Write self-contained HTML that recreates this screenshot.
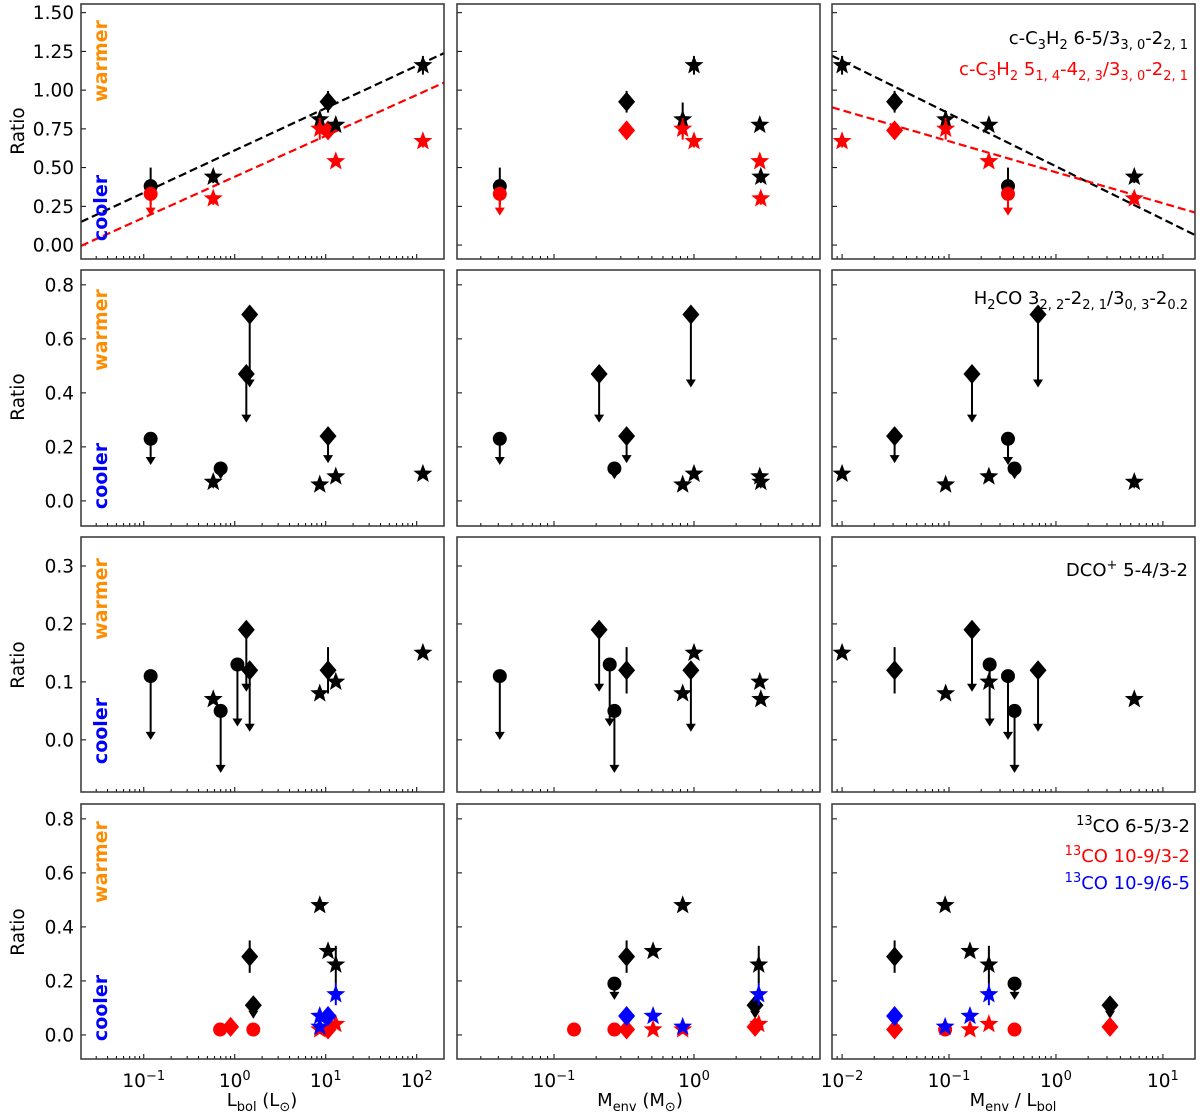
<!DOCTYPE html>
<html><head><meta charset="utf-8"><style>
html,body{margin:0;padding:0;background:#fff;}
svg{display:block;font-family:"DejaVu Sans","Liberation Sans",sans-serif;}
</style></head><body>
<svg id="fig" width="1200" height="1116" viewBox="0 0 1200 1116" xmlns="http://www.w3.org/2000/svg"></svg>
<script>
// ---- data ----
const yTicksRow1 = [0,0.25,0.5,0.75,1.0,1.25,1.5];
const yTickLabelsRow1 = ["0.00","0.25","0.50","0.75","1.00","1.25","1.50"];
const yTicksRow2 = [0,0.2,0.4,0.6,0.8];
const yTickLabelsRow2 = ["0.0","0.2","0.4","0.6","0.8"];
const yTicksRow3 = [0,0.1,0.2,0.3];
const yTickLabelsRow3 = ["0.0","0.1","0.2","0.3"];
const yTicksRow4 = [0,0.2,0.4,0.6,0.8];
const yTickLabelsRow4 = ["0.0","0.2","0.4","0.6","0.8"];
const xDecadesCol1 = [-1,0,1,2];
const xDecadesCol2 = [-1,0];
const xDecadesCol3 = [-2,-1,0,1];
// points: [x, y, marker, color, err, upperLimitTip]
const c3h2VsLbol = [
 [0.119,0.38,'o','k',0.12,null],[0.119,0.33,'o','r',0,0.19],
 [0.58,0.44,'*','k',0.04,null],[0.58,0.30,'*','r',0.04,null],
 [8.6,0.81,'*','k',0.05,null],[8.6,0.75,'*','r',0.07,null],
 [10.6,0.925,'D','k',0.07,null],[10.6,0.74,'D','r',0.05,null],
 [12.9,0.775,'*','k',0,null],[12.9,0.54,'*','r',0,null],
 [117,1.16,'*','k',0.06,null],[117,0.67,'*','r',0.04,null]];
const c3h2VsMenv = [
 [0.041,0.38,'o','k',0.12,null],[0.041,0.33,'o','r',0,0.19],
 [0.33,0.925,'D','k',0.07,null],[0.33,0.74,'D','r',0.05,null],
 [0.83,0.81,'*','k',0.11,null],[0.83,0.75,'*','r',0.07,null],
 [1.0,1.16,'*','k',0.06,null],[1.0,0.67,'*','r',0.04,null],
 [2.95,0.775,'*','k',0,null],[2.95,0.54,'*','r',0,null],
 [3.0,0.44,'*','k',0.04,null],[3.0,0.30,'*','r',0.04,null]];
const c3h2VsRatio = [
 [0.01,1.16,'*','k',0.06,null],[0.01,0.67,'*','r',0.04,null],
 [0.031,0.925,'D','k',0.07,null],[0.031,0.74,'D','r',0.05,null],
 [0.093,0.81,'*','k',0.05,null],[0.093,0.75,'*','r',0.07,null],
 [0.236,0.775,'*','k',0,null],[0.236,0.54,'*','r',0,null],
 [0.356,0.38,'o','k',0.12,null],[0.356,0.33,'o','r',0,0.19],
 [5.4,0.44,'*','k',0.04,null],[5.4,0.30,'*','r',0.04,null]];
const h2coVsLbol = [
 [0.119,0.23,'o','k',0,0.133],[0.58,0.07,'*','k',0,0.045],[0.70,0.12,'o','k',0,0.08],
 [1.46,0.69,'D','k',0,0.42],[1.34,0.47,'D','k',0,0.29],[10.6,0.24,'D','k',0,0.14],
 [8.6,0.06,'*','k',0,null],[12.9,0.09,'*','k',0,null],[117,0.10,'*','k',0,null]];
const h2coVsMenv = [
 [0.041,0.23,'o','k',0,0.133],[0.21,0.47,'D','k',0,0.29],[0.33,0.24,'D','k',0,0.14],
 [0.27,0.12,'o','k',0,0.08],[0.83,0.06,'*','k',0,null],[0.95,0.69,'D','k',0,0.42],
 [1.0,0.10,'*','k',0,null],[2.95,0.09,'*','k',0,null],[3.0,0.07,'*','k',0,0.045]];
const h2coVsRatio = [
 [0.01,0.10,'*','k',0,null],[0.031,0.24,'D','k',0,0.14],[0.093,0.06,'*','k',0,null],
 [0.164,0.47,'D','k',0,0.29],[0.236,0.09,'*','k',0,null],[0.356,0.23,'o','k',0,0.133],
 [0.41,0.12,'o','k',0,0.08],[0.68,0.69,'D','k',0,0.42],[5.4,0.07,'*','k',0,0.045]];
const dcoVsLbol = [
 [0.119,0.11,'o','k',0,0.0],[0.58,0.07,'*','k',0,null],[0.70,0.05,'o','k',0,-0.057],
 [1.07,0.13,'o','k',0,0.023],[1.34,0.19,'D','k',0,0.083],[1.46,0.12,'D','k',0,0.014],
 [8.6,0.08,'*','k',0,null],[10.6,0.12,'D','k',0.04,null],[12.9,0.10,'*','k',0,null],[117,0.15,'*','k',0,null]];
const dcoVsMenv = [
 [0.041,0.11,'o','k',0,0.0],[0.21,0.19,'D','k',0,0.083],[0.25,0.13,'o','k',0,0.023],
 [0.27,0.05,'o','k',0,-0.057],[0.33,0.12,'D','k',0.04,null],[0.83,0.08,'*','k',0,null],
 [0.95,0.12,'D','k',0,0.014],[1.0,0.15,'*','k',0,null],[2.95,0.10,'*','k',0,null],[3.0,0.07,'*','k',0,null]];
const dcoVsRatio = [
 [0.01,0.15,'*','k',0,null],[0.031,0.12,'D','k',0.04,null],[0.093,0.08,'*','k',0,null],
 [0.164,0.19,'D','k',0,0.083],[0.236,0.10,'*','k',0,null],[0.24,0.13,'o','k',0,0.023],
 [0.356,0.11,'o','k',0,0.0],[0.41,0.05,'o','k',0,-0.057],[0.68,0.12,'D','k',0,0.014],[5.4,0.07,'*','k',0,null]];
const coVsLbol = [
 [1.46,0.29,'D','k',0.06,null],[1.6,0.11,'D','k',0,0.06],[8.6,0.48,'*','k',0,null],
 [10.6,0.31,'*','k',0,null],[12.9,0.26,'*','k',0.07,null],
 [0.69,0.02,'o','r',0,null],[0.90,0.03,'D','r',0,null],[1.6,0.02,'o','r',0,null],
 [8.6,0.02,'*','r',0,null],[10.6,0.02,'D','r',0,null],[12.9,0.04,'*','r',0,null],
 [12.9,0.15,'*','b',0.04,null],[8.6,0.07,'*','b',0,null],[8.6,0.03,'*','b',0,null],[10.6,0.07,'D','b',0,null]];
const coVsMenv = [
 [0.27,0.19,'o','k',0,0.13],[0.33,0.29,'D','k',0.06,null],[0.51,0.31,'*','k',0,null],
 [0.83,0.48,'*','k',0,null],[2.73,0.11,'D','k',0,0.06],[2.9,0.26,'*','k',0.07,null],
 [0.139,0.02,'o','r',0,null],[0.27,0.02,'o','r',0,null],[0.33,0.02,'D','r',0,null],
 [0.51,0.02,'*','r',0,null],[0.83,0.02,'*','r',0,null],[2.73,0.03,'D','r',0,null],[2.9,0.04,'*','r',0,null],
 [0.33,0.07,'D','b',0,null],[0.51,0.07,'*','b',0,null],[0.83,0.03,'*','b',0,null],[2.9,0.15,'*','b',0.04,null]];
const coVsRatio = [
 [0.031,0.29,'D','k',0.06,null],[0.092,0.48,'*','k',0,null],[0.157,0.31,'*','k',0,null],
 [0.236,0.26,'*','k',0.07,null],[0.41,0.19,'o','k',0,0.13],[3.2,0.11,'D','k',0,0.06],
 [0.031,0.02,'D','r',0,null],[0.092,0.02,'o','r',0,null],[0.157,0.02,'*','r',0,null],
 [0.236,0.04,'*','r',0,null],[0.41,0.02,'o','r',0,null],[3.2,0.03,'D','r',0,null],
 [0.031,0.07,'D','b',0,null],[0.092,0.03,'*','b',0,null],[0.157,0.07,'*','b',0,null],[0.236,0.15,'*','b',0.04,null]];
// fit lines: [intercept at log10(x)=0, slope per decade]
const fitBlackLbol = [0.611,0.273];
const fitRedLbol = [0.441,0.264];
const fitBlackRatio = [0.508,-0.341];
const fitRedRatio = [0.47,-0.2];

// ---- layout ----
const NS="http://www.w3.org/2000/svg";
const svg=document.getElementById('fig');
const COLORS={k:'#000000',r:'#ff0000',b:'#0000ff'};
const cols=[{x0:81,x1:444,lmin:-1.69,lmax:2.30,dec:xDecadesCol1},
            {x0:457,x1:820,lmin:-1.693,lmax:0.9,dec:xDecadesCol2},
            {x0:832,x1:1195,lmin:-2.094,lmax:1.3,dec:xDecadesCol3}];
const rows=[{y0:4,y1:259,vmin:-0.09,vmax:1.556,t:yTicksRow1,l:yTickLabelsRow1},
            {y0:270,y1:526,vmin:-0.093,vmax:0.855,t:yTicksRow2,l:yTickLabelsRow2},
            {y0:537,y1:792,vmin:-0.09,vmax:0.35,t:yTicksRow3,l:yTickLabelsRow3},
            {y0:804,y1:1059,vmin:-0.089,vmax:0.855,t:yTicksRow4,l:yTickLabelsRow4}];
const panelData=[[c3h2VsLbol,c3h2VsMenv,c3h2VsRatio],[h2coVsLbol,h2coVsMenv,h2coVsRatio],
                 [dcoVsLbol,dcoVsMenv,dcoVsRatio],[coVsLbol,coVsMenv,coVsRatio]];
function el(tag,attrs,parent){const e=document.createElementNS(NS,tag);for(const k in attrs)e.setAttribute(k,attrs[k]);(parent||svg).appendChild(e);return e;}
function xs(c,v){return c.x0+(Math.log10(v)-c.lmin)/(c.lmax-c.lmin)*(c.x1-c.x0);}
function xl(c,l){return c.x0+(l-c.lmin)/(c.lmax-c.lmin)*(c.x1-c.x0);}
function ys(r,v){return r.y1-(v-r.vmin)/(r.vmax-r.vmin)*(r.y1-r.y0);}
function starPath(cx,cy,R){const r=R*0.42;let d='';for(let i=0;i<10;i++){const a=-Math.PI/2+i*Math.PI/5;const rr=i%2?r:R;d+=(i?'L':'M')+(cx+rr*Math.cos(a)).toFixed(2)+','+(cy+rr*Math.sin(a)).toFixed(2);}return d+'Z';}
// rich text: segments [text, 'n'|'sub'|'sup']
function rich(t,segs,base,small){let cur=0;segs.forEach(s=>{const target=s[1]==='sub'?Math.round(base*0.3):s[1]==='sup'?-Math.round(base*0.4):0;
  const ts=document.createElementNS(NS,'tspan');ts.setAttribute('dy',target-cur);cur=target;
  ts.setAttribute('font-size',s[1]==='n'?base:small);ts.textContent=s[0];t.appendChild(ts);});}

rows.forEach((r,ri)=>{cols.forEach((c,ci)=>{
  const g=el('g',{});
  
  
  const cp='clip'+ri+ci;
  const cl=el('clipPath',{id:cp},g);el('rect',{x:c.x0,y:r.y0,width:c.x1-c.x0,height:r.y1-r.y0},cl);
  r.t.forEach((t,i)=>{const y=ys(r,t);
    el('line',{x1:c.x0,x2:c.x0+5,y1:y,y2:y,stroke:'#000','stroke-width':1},g);
    if(ci===0){const tx=el('text',{x:c.x0-7,y:y+6.5,'text-anchor':'end','font-size':18.5,fill:'#000'},g);tx.textContent=r.l[i];
      
      }
  });
  for(let d=Math.floor(c.lmin);d<=Math.ceil(c.lmax);d++){for(let m=1;m<10;m++){const l=d+Math.log10(m);if(l<c.lmin||l>c.lmax)continue;const x=xl(c,l);
    el('line',{x1:x,x2:x,y1:r.y1,y2:r.y1-(m===1?5:3),stroke:'#000','stroke-width':1},g);}}
  if(ri===3){c.dec.forEach(d=>{const x=xl(c,d);const tx=el('text',{x:x,y:1087,'text-anchor':'middle',fill:'#000'},g);
    rich(tx,[['10','n'],[(d<0?'\u2212'+(-d):String(d)),'sup']],18.5,13);
    
    });}
  const pg=el('g',{'clip-path':'url(#'+cp+')'},g);
  if(ri===0&&ci!==1){const fits=ci===0?[[fitBlackLbol,'#000'],[fitRedLbol,'#ff0000']]:[[fitBlackRatio,'#000'],[fitRedRatio,'#ff0000']];
    fits.forEach(f=>{const ln=el('line',{x1:c.x0,x2:c.x1,y1:ys(r,f[0][0]+f[0][1]*c.lmin),y2:ys(r,f[0][0]+f[0][1]*c.lmax),stroke:f[1],'stroke-width':2.2,'stroke-dasharray':'8,4'},pg);
      
      });}
  panelData[ri][ci].forEach(p=>{const [xv,yv,m,col,e,ul]=p;const X=xs(c,xv),Y=ys(r,yv),fill=COLORS[col];
    const pt=el('g',{},pg);
    
    
    if(e)el('line',{x1:X,x2:X,y1:ys(r,yv+e),y2:ys(r,yv-e),stroke:fill,'stroke-width':2},pt);
    if(ul!==null){const Yt=ys(r,ul);el('line',{x1:X,x2:X,y1:Y,y2:Yt-6,stroke:fill,'stroke-width':2},pt);
      el('path',{d:`M${X-5},${Yt-8}L${X+5},${Yt-8}L${X},${Yt}Z`,fill:fill},pt);}
    if(m==='o')el('circle',{cx:X,cy:Y,r:7,fill:fill},pt);
    else if(m==='D')el('path',{d:`M${X},${Y-10}L${X+8.5},${Y}L${X},${Y+10}L${X-8.5},${Y}Z`,fill:fill},pt);
    else el('path',{d:starPath(X,Y,10),fill:fill},pt);
  });
  el('rect',{x:c.x0,y:r.y0,width:c.x1-c.x0,height:r.y1-r.y0,fill:'none',stroke:'#333','stroke-width':1.5},g);
});
  const cy=[[61,208,131],[330,476,397],[599,731,665],[862,1008,932]][ri];
  const w=el('text',{transform:`translate(107,${cy[0]}) rotate(-90)`,'text-anchor':'middle','font-size':19,'font-weight':'bold',fill:'#ff8c00'});w.textContent='warmer';
  
  
  const co=el('text',{transform:`translate(107,${cy[1]}) rotate(-90)`,'text-anchor':'middle','font-size':19,'font-weight':'bold',fill:'#0000ff'});co.textContent='cooler';
  
  
  const ra=el('text',{transform:`translate(24,${cy[2]}) rotate(-90)`,'text-anchor':'middle','font-size':18.5,fill:'#000'});ra.textContent='Ratio';
  
  
});

function L(x,y,segs,fill,name,anchor){const t=el('text',{x:x,y:y,'text-anchor':anchor||'end',fill:fill});rich(t,segs,18,13);
  
  }
L(1188,44,[['c-C','n'],['3','sub'],['H','n'],['2','sub'],[' 6-5/3','n'],['3, 0','sub'],['-2','n'],['2, 1','sub']],'#000','legend-c3h2-black');
L(1188,75,[['c-C','n'],['3','sub'],['H','n'],['2','sub'],[' 5','n'],['1, 4','sub'],['-4','n'],['2, 3','sub'],['/3','n'],['3, 0','sub'],['-2','n'],['2, 1','sub']],'#ff0000','legend-c3h2-red');
L(1188,304,[['H','n'],['2','sub'],['CO 3','n'],['2, 2','sub'],['-2','n'],['2, 1','sub'],['/3','n'],['0, 3','sub'],['-2','n'],['0.2','sub']],'#000','legend-h2co');
L(1188,576,[['DCO','n'],['+','sup'],[' 5-4/3-2','n']],'#000','legend-dco');
L(1190,832,[['13','sup'],['CO 6-5/3-2','n']],'#000','legend-13co-65-32');
L(1190,862,[['13','sup'],['CO 10-9/3-2','n']],'#ff0000','legend-13co-109-32');
L(1190,889,[['13','sup'],['CO 10-9/6-5','n']],'#0000ff','legend-13co-109-65');
L(262,1106,[['L','n'],['bol','sub'],[' (L','n'],['\u2299','sub'],[')','n']],'#000','x-axis-title-lbol','middle');
L(640,1106,[['M','n'],['env','sub'],[' (M','n'],['\u2299','sub'],[')','n']],'#000','x-axis-title-menv','middle');
L(1013,1106,[['M','n'],['env','sub'],[' / L','n'],['bol','sub']],'#000','x-axis-title-ratio','middle');
</script>
</body></html>
